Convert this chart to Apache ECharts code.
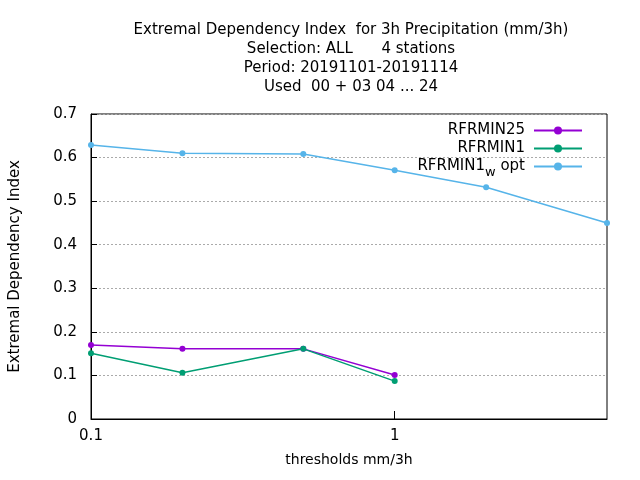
<!DOCTYPE html>
<html><head><meta charset="utf-8">
<script src="https://cdn.jsdelivr.net/npm/echarts@6/dist/echarts.min.js"></script>
<style>html,body{margin:0;padding:0;background:#fff}#c{width:640px;height:480px}</style>
</head><body><div id="c"></div>
<script>
const xs = [0.1, 0.2, 0.5, 1, 2, 5];
const rfrmin25 = [0.17, 0.161, 0.161, 0.101];
const rfrmin1 = [0.151, 0.106, 0.161, 0.087];
const wopt = [0.629, 0.61, 0.608, 0.571, 0.532, 0.45];
const names = ['RFRMIN25', 'RFRMIN1', 'RFRMIN1_w opt'];
const colors = ['#9400d3', '#009e73', '#56b4e9'];
const titleLines = ['Extremal Dependency Index  for 3h Precipitation (mm/3h)', 'Selection: ALL      4 stations', 'Period: 20191101-20191114', 'Used  00 + 03 04 ... 24'];
const pairs = a => a.map((v, i) => [xs[i], v]);
const font = 'DejaVu Sans, sans-serif';
const mk = (i, d) => ({
  name: names[i], type: 'line', data: pairs(d), color: colors[i],
  symbol: 'circle', symbolSize: 6, lineStyle: {width: 1.5}, itemStyle: {color: colors[i]}
});
const chart = echarts.init(document.getElementById('c'));
chart.setOption({
  animation: false,
  textStyle: {fontFamily: font},
  title: {text: titleLines.join('\n'), left: 346, textAlign: 'center', top: 16,
    textStyle: {fontSize: 15, fontWeight: 'normal', color: '#000', lineHeight: 19, fontFamily: font}},
  grid: {left: 90, right: 33, top: 114, bottom: 61, show: true, borderColor: '#000', borderWidth: 1},
  legend: {
    right: 52, top: 118, orient: 'vertical', align: 'right', itemGap: 3,
    itemWidth: 48, itemHeight: 10,
    data: names,
    formatter: n => n === names[2] ? '{a|RFRMIN1}{s|w}{a| opt}' : '{a|' + n + '}',
    textStyle: {fontSize: 15, color: '#000', padding: [0, 4, 0, 0], rich: {a: {fontSize: 15, fontFamily: font}, s: {fontSize: 13, padding: [12, 0, 0, 0], fontFamily: font}}}
  },
  xAxis: {type: 'log', logBase: 10, min: 0.1, max: 5, name: 'thresholds mm/3h', nameLocation: 'middle', nameGap: 34,
    nameTextStyle: {fontSize: 14, color: '#000'},
    axisLine: {lineStyle: {color: '#000'}}, axisTick: {inside: true, length: 8, lineStyle: {color: '#000'}},
    axisLabel: {fontSize: 15, color: '#000', margin: 10, showMaxLabel: false}, splitLine: {show: false}},
  yAxis: {type: 'value', min: 0, max: 0.7, interval: 0.1, name: 'Extremal Dependency Index', nameLocation: 'middle', nameGap: 68,
    nameTextStyle: {fontSize: 15, color: '#000'},
    axisLine: {show: true, lineStyle: {color: '#000'}}, axisTick: {inside: true, length: 6, lineStyle: {color: '#000'}},
    axisLabel: {fontSize: 15, color: '#000', margin: 14, formatter: v => v === 0 ? '0' : v.toFixed(1)},
    splitLine: {lineStyle: {color: '#aaa', type: [2, 2]}}},
  series: [mk(0, rfrmin25), mk(1, rfrmin1), mk(2, wopt)]
});
</script></body></html>
